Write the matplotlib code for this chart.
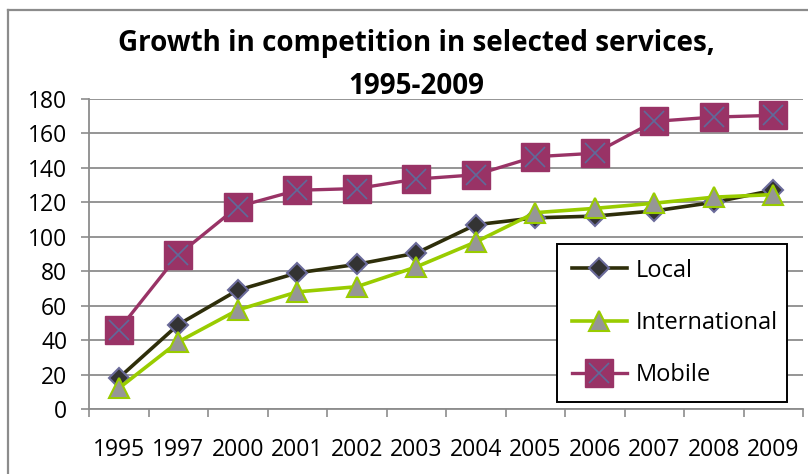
import matplotlib
matplotlib.use("Agg")
import matplotlib.pyplot as plt
from matplotlib.lines import Line2D

years = ["1995", "1997", "2000", "2001", "2002", "2003", "2004", "2005", "2006", "2007", "2008", "2009"]
local = [18, 49, 69, 79, 84, 90.5, 107, 111, 112, 115, 120, 127]
international = [12, 39, 57.5, 68, 71, 82.5, 97, 114, 116.5, 119.5, 123, 124.5]
mobile = [46, 89.5, 117.5, 127, 128, 133.5, 136, 146.5, 148.5, 167, 169.5, 170.5]
yticks = [0, 20, 40, 60, 80, 100, 120, 140, 160, 180]

FONT = "Open Sans"
plt.rcParams['font.family'] = [FONT, 'DejaVu Sans']

W, H = 808, 474
fig = plt.figure(figsize=(W / 100, H / 100), dpi=100)

# outer frame (left and top visible)
fig.add_artist(Line2D([8 / W, 8 / W], [0, 1 - 10 / H], color="#8c8c8c", lw=1.6, transform=fig.transFigure))
fig.add_artist(Line2D([8 / W, 1], [1 - 10 / H, 1 - 10 / H], color="#8c8c8c", lw=1.6, transform=fig.transFigure))

ax_l, ax_r, ax_t, ax_b = 89, 803, 99, 409
ax = fig.add_axes([ax_l / W, 1 - ax_b / H, (ax_r - ax_l) / W, (ax_b - ax_t) / H])

x = list(range(len(years)))
ax.plot(x, local, color="#2e2e0a", lw=2.6, marker="D", markersize=10,
        markerfacecolor="#333333", markeredgecolor="#6b6b9b", markeredgewidth=1.5, label="Local", zorder=3)
ax.plot(x, international, color="#99cc00", lw=2.6, marker="^", markersize=15,
        markerfacecolor="#969696", markeredgecolor="#99cc00", markeredgewidth=1.5, label="International", zorder=4)
ax.plot(x, mobile, color="#993366", lw=2.4, marker="s", markersize=19.5,
        markerfacecolor="#993366", markeredgecolor="#993366", markeredgewidth=1, label="Mobile", zorder=5)
ax.plot(x, mobile, ls="none", marker="x", markersize=14, markeredgecolor="#5f6a9a",
        markeredgewidth=1.2, zorder=6)

ax.set_xlim(-0.5, len(years) - 0.5)
ax.set_ylim(0, 180)
ax.set_yticks(yticks)
ax.set_xticks(x)
ax.set_xticklabels(years)
ax.set_xticks([i - 0.5 for i in range(len(years) + 1)], minor=True)
ax.tick_params(axis="x", which="major", length=0, pad=21, labelsize=16.5)
ax.tick_params(axis="x", which="minor", length=5.5, width=1.2, color="#8c8c8c", direction="out")
ax.tick_params(axis="y", length=5.5, width=1.2, color="#8c8c8c", pad=10, labelsize=16.5)

ax.grid(axis="y", color="#8c8c8c", lw=1.3, zorder=0)
ax.set_axisbelow(True)
for s in ["top", "right"]:
    ax.spines[s].set_visible(False)
for s in ["left", "bottom"]:
    ax.spines[s].set_color("#8c8c8c")
    ax.spines[s].set_linewidth(1.3)

# legend
h1 = Line2D([], [], color="#2e2e0a", lw=2.6, marker="D", markersize=10,
            markerfacecolor="#333333", markeredgecolor="#6b6b9b", markeredgewidth=1.5)
h2 = Line2D([], [], color="#99cc00", lw=2.6, marker="^", markersize=15,
            markerfacecolor="#969696", markeredgecolor="#99cc00", markeredgewidth=1.5)
h3 = Line2D([], [], color="#993366", lw=2.4, marker="s", markersize=19.5,
            markerfacecolor="#993366", markeredgecolor="#993366")
h3x = Line2D([], [], ls="none", marker="x", markersize=14, markeredgecolor="#5f6a9a", markeredgewidth=1.2)
lx0 = (557 - ax_l) / (ax_r - ax_l)
lx1 = (787 - ax_l) / (ax_r - ax_l)
ly0 = (ax_b - 402) / (ax_b - ax_t)
leg = ax.legend([h1, h2, (h3, h3x)], ["Local", "International", "Mobile"],
                loc="lower left", bbox_to_anchor=(lx0, ly0, lx1 - lx0, 0.5), mode="expand",
                fontsize=17, frameon=True, fancybox=False, edgecolor="black", framealpha=1,
                handlelength=2.35, handletextpad=0.35, labelspacing=1.2, borderpad=0.62,
                borderaxespad=0)
leg.get_frame().set_linewidth(1.4)

fig.text(416 / W, 1 - 65 / H, "Growth in competition in selected services,\n1995-2009",
         ha="center", va="center", ma="center", fontsize=20, fontweight="bold",
         linespacing=1.65)

fig.savefig("out.png", dpi=100)
